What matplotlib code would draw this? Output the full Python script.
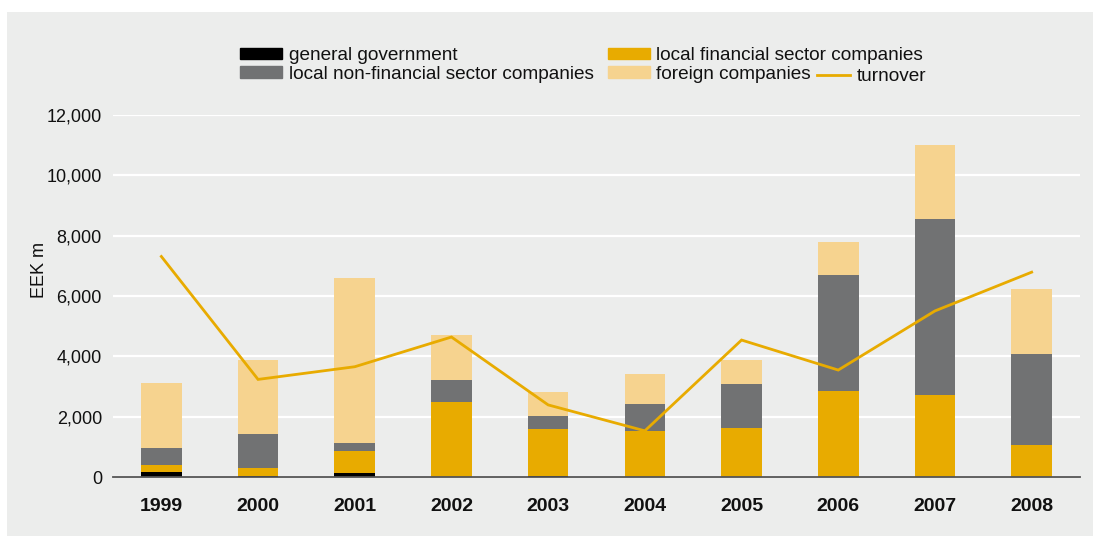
import matplotlib
matplotlib.use("Agg")
import matplotlib.pyplot as plt
from matplotlib.patches import Rectangle, Patch
from matplotlib.lines import Line2D
from matplotlib.ticker import FuncFormatter
import numpy as np

plt.rcParams['font.family'] = ['Liberation Sans', 'DejaVu Sans']

years = ['1999', '2000', '2001', '2002', '2003', '2004', '2005', '2006', '2007', '2008']
general_government = [155, 25, 130, 0, 40, 0, 0, 0, 0, 0]
local_financial = [233, 265, 723, 2500, 1550, 1530, 1630, 2850, 2715, 1065]
local_non_financial = [565, 1128, 267, 720, 440, 890, 1450, 3830, 5845, 3015]
foreign = [2157, 2462, 5480, 1490, 790, 1000, 800, 1120, 2430, 2160]
turnover = [7310, 3235, 3655, 4640, 2390, 1530, 4540, 3545, 5505, 6790]

c_gov = '#000000'
c_fin = '#E8AB00'
c_nonfin = '#717273'
c_foreign = '#F6D38F'
c_bg = '#ECEDEC'

W, H = 1093, 536
fig = plt.figure(figsize=(W / 100, H / 100), dpi=100, facecolor='white')
fig.patches.append(Rectangle((7 / W, 0), 1 - 7 / W, 1 - 12 / H,
                             transform=fig.transFigure, facecolor=c_bg,
                             edgecolor='none', zorder=-10))

ax = fig.add_axes([113 / W, 1 - 477 / H, (1080 - 113) / W, (477 - 115) / H])
ax.set_facecolor(c_bg)

x = np.arange(len(years))
bw = 0.42
gov = np.array(general_government)
fin = np.array(local_financial)
nonfin = np.array(local_non_financial)
forn = np.array(foreign)

ax.bar(x, gov, bw, color=c_gov, zorder=2)
ax.bar(x, fin, bw, bottom=gov, color=c_fin, zorder=2)
ax.bar(x, nonfin, bw, bottom=gov + fin, color=c_nonfin, zorder=2)
ax.bar(x, forn, bw, bottom=gov + fin + nonfin, color=c_foreign, zorder=2)
ax.plot(x, turnover, color=c_fin, lw=2.0, zorder=3, solid_joinstyle='miter')

ax.set_xlim(-0.5, len(years) - 0.5)
ax.set_ylim(0, 12000)
ax.set_yticks(np.arange(0, 12001, 2000))
ax.yaxis.set_major_formatter(FuncFormatter(lambda v, p: f'{int(v):,}'))
ax.set_xticks(x)
ax.set_xticklabels(years, fontweight='bold')
ax.tick_params(axis='y', length=0, pad=8, labelsize=13, colors='#111111')
ax.tick_params(axis='x', length=0, pad=15, labelsize=14, colors='#111111')
ax.grid(axis='y', color='white', lw=1.6, zorder=0)
ax.set_axisbelow(True)
for s in ['top', 'right', 'left']:
    ax.spines[s].set_visible(False)
ax.spines['bottom'].set_color('#555555')
ax.spines['bottom'].set_linewidth(1.3)
ax.spines['bottom'].set_zorder(4)

fig.text(39 / W, 1 - 270 / H, 'EEK m', rotation=90, ha='center', va='center',
         fontsize=13, color='#111111')

handles = [Patch(color=c_gov), Patch(color=c_nonfin),
           Patch(color=c_fin), Patch(color=c_foreign)]
labels = ['general government', 'local non-financial sector companies',
          'local financial sector companies', 'foreign companies']
leg = fig.legend(handles, labels, ncol=2, loc='upper left',
                 bbox_to_anchor=(240 / W, 1 - 47 / H), frameon=False,
                 fontsize=13.7, handlelength=2.2, handleheight=0.55,
                 handletextpad=0.35, columnspacing=0.75, labelspacing=0.1,
                 borderpad=0, borderaxespad=0)
for t in leg.get_texts():
    t.set_color('#111111')

leg2 = fig.legend([Line2D([], [], color=c_fin, lw=2.0)], ['turnover'],
                  loc='upper left', bbox_to_anchor=(817 / W, 1 - 68 / H),
                  frameon=False, fontsize=13.7, handlelength=1.75,
                  handletextpad=0.35, borderpad=0, borderaxespad=0)
for t in leg2.get_texts():
    t.set_color('#111111')

fig.savefig('out.png', dpi=100, facecolor=fig.get_facecolor())
